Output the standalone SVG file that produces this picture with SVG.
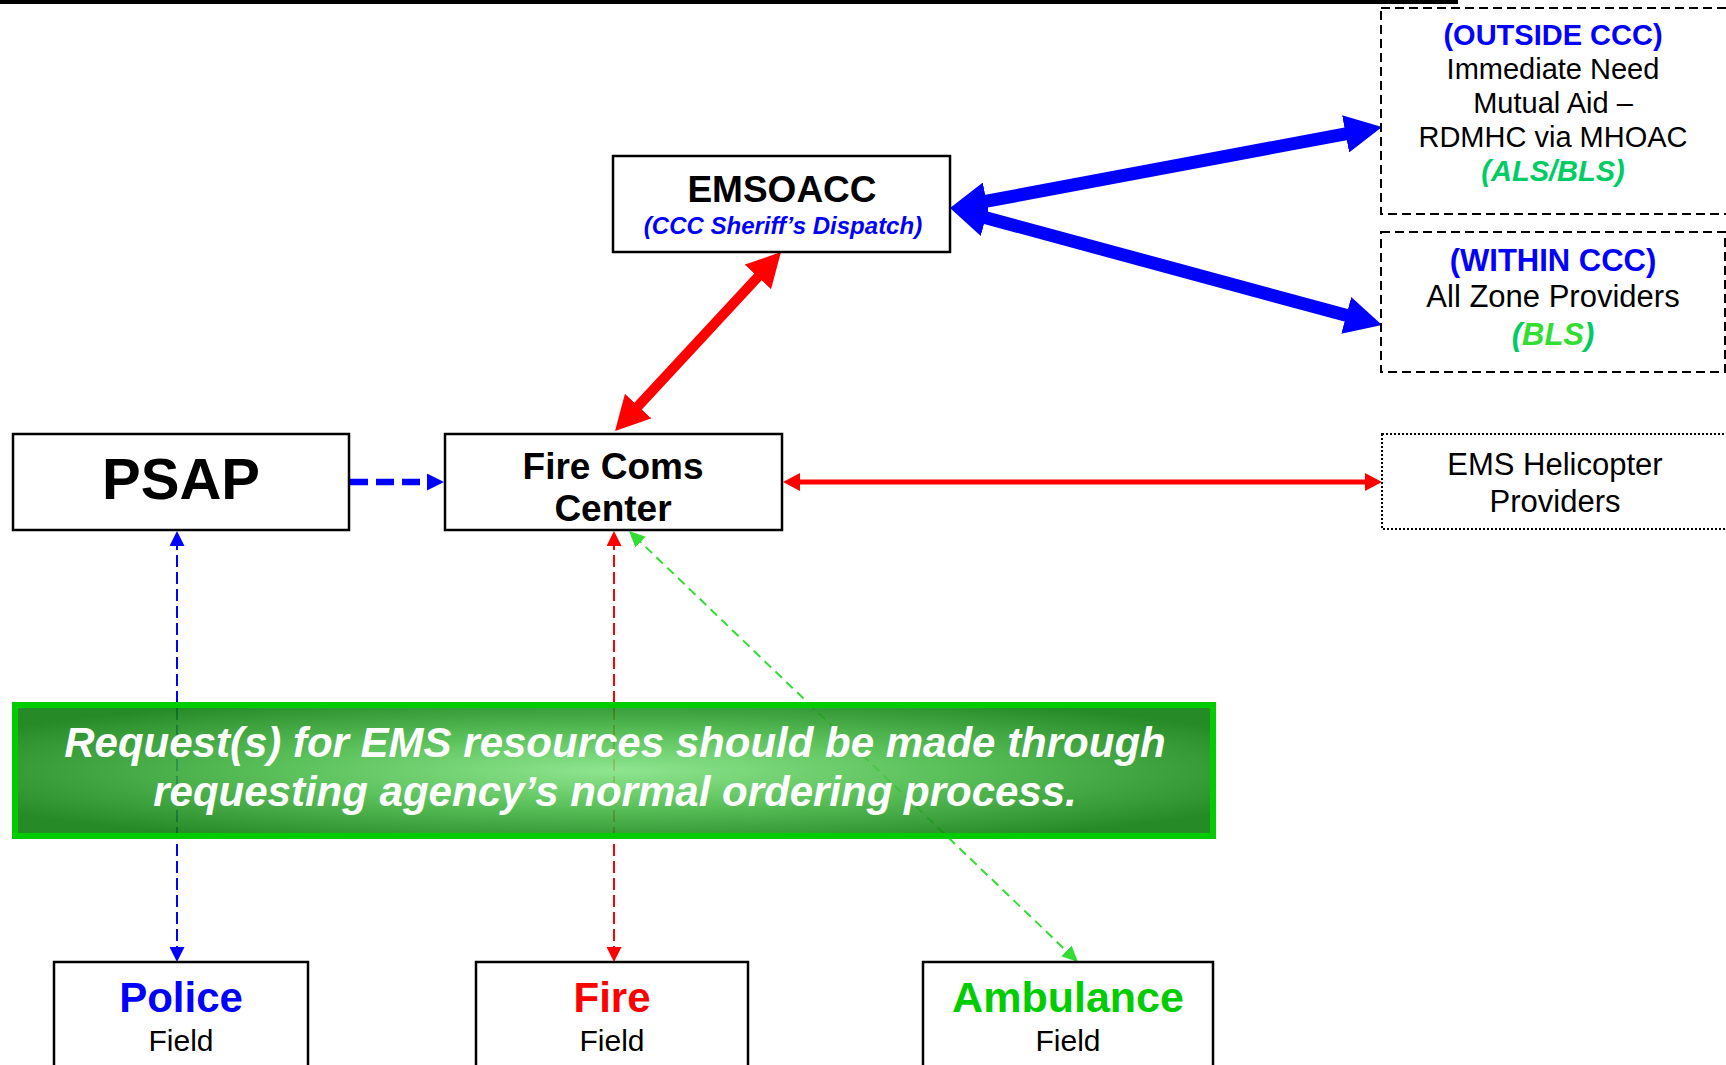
<svg xmlns="http://www.w3.org/2000/svg" width="1726" height="1065" viewBox="0 0 1726 1065">
<style>
text{font-family:"Liberation Sans",Arial,sans-serif;text-anchor:middle}
.box{fill:#fff;stroke:#000;stroke-width:2.5}
.dash{fill:#fff;stroke:#000;stroke-width:2;stroke-dasharray:9 5}
.dot{fill:#fff;stroke:#000;stroke-width:2;stroke-dasharray:2 2}
.b{font-weight:bold}
.bi{font-weight:bold;font-style:italic}
.blue{fill:#0000FF}.red{fill:#FF0000}.grn{fill:#00CC00}
</style>
<defs>
<radialGradient id="gg" cx="0.5" cy="0.5" r="0.6">
<stop offset="0" stop-color="#80E280"/>
<stop offset="0.45" stop-color="#45B945"/>
<stop offset="1" stop-color="#087A08"/>
</radialGradient>
<marker id="hBlueBig" markerUnits="userSpaceOnUse" markerWidth="37" markerHeight="38" refX="19" refY="19" orient="auto-start-reverse" viewBox="0 0 37 38"><path d="M0,0 L37,19 L0,38 z" fill="#0000FF"/></marker>
<marker id="hRedBig" markerUnits="userSpaceOnUse" markerWidth="34" markerHeight="36" refX="17" refY="18" orient="auto-start-reverse" viewBox="0 0 34 36"><path d="M0,0 L34,18 L0,36 z" fill="#FF0000"/></marker>
<marker id="hRed" markerUnits="userSpaceOnUse" markerWidth="17" markerHeight="18" refX="9" refY="9" orient="auto-start-reverse" viewBox="0 0 17 18"><path d="M0,0 L17,9 L0,18 z" fill="#FF0000"/></marker>
<marker id="hBlueMid" markerUnits="userSpaceOnUse" markerWidth="17" markerHeight="17" refX="9" refY="8.5" orient="auto-start-reverse" viewBox="0 0 17 17"><path d="M0,0 L17,8.5 L0,17 z" fill="#0000FF"/></marker>
<marker id="hBlueS" markerUnits="userSpaceOnUse" markerWidth="15" markerHeight="15" refX="8" refY="7.5" orient="auto-start-reverse" viewBox="0 0 15 15"><path d="M0,0 L15,7.5 L0,15 z" fill="#0000FF"/></marker>
<marker id="hRedS" markerUnits="userSpaceOnUse" markerWidth="15" markerHeight="15" refX="8" refY="7.5" orient="auto-start-reverse" viewBox="0 0 15 15"><path d="M0,0 L15,7.5 L0,15 z" fill="#FF0000"/></marker>
<marker id="hGrnS" markerUnits="userSpaceOnUse" markerWidth="16" markerHeight="15" refX="8" refY="7.5" orient="auto-start-reverse" viewBox="0 0 16 15"><path d="M0,0 L16,7.5 L0,15 z" fill="#33DD33"/></marker>
</defs>

<rect x="0" y="0" width="1458" height="4" fill="#000"/>

<g id="connectors">
<line x1="967.7" y1="204.7" x2="1364.3" y2="130.3" stroke="#0000FF" stroke-width="13" marker-start="url(#hBlueBig)" marker-end="url(#hBlueBig)"/>
<line x1="967.4" y1="212.7" x2="1364.6" y2="320.3" stroke="#0000FF" stroke-width="13" marker-start="url(#hBlueBig)" marker-end="url(#hBlueBig)"/>
<line x1="769.4" y1="264.5" x2="626.6" y2="418.5" stroke="#FF0000" stroke-width="10" marker-start="url(#hRedBig)" marker-end="url(#hRedBig)"/>
<line x1="791" y1="482" x2="1374" y2="482" stroke="#FF0000" stroke-width="5" marker-start="url(#hRed)" marker-end="url(#hRed)"/>
<line x1="350" y1="482" x2="436" y2="482" stroke="#0000FF" stroke-width="6.5" stroke-dasharray="18 8" marker-end="url(#hBlueMid)"/>
<line x1="177" y1="538" x2="177" y2="955" stroke="#0000FF" stroke-width="2" stroke-dasharray="12 5" marker-start="url(#hBlueS)" marker-end="url(#hBlueS)"/>
<line x1="614" y1="538" x2="614" y2="955" stroke="#FF0000" stroke-width="2" stroke-dasharray="12 5" marker-start="url(#hRedS)" marker-end="url(#hRedS)"/>
<line x1="634.8" y1="536.5" x2="1072.2" y2="956.5" stroke="#33DD33" stroke-width="2" stroke-dasharray="9 6" marker-start="url(#hGrnS)" marker-end="url(#hGrnS)"/>
</g>

<g id="note">
<rect x="15" y="705" width="1198" height="131" fill="url(#gg)" fill-opacity="0.88" stroke="#00CC00" stroke-width="6"/>
<text x="615" y="757" class="bi" font-size="42" fill="#fff">Request(s) for EMS resources should be made through</text>
<text x="615" y="806" class="bi" font-size="42" fill="#fff">requesting agency’s normal ordering process.</text>
</g>

<g id="emsoacc">
<rect x="613" y="156" width="337" height="96" class="box"/>
<text x="782" y="202" class="b" font-size="37">EMSOACC</text>
<text x="783" y="234" class="bi blue" font-size="24">(CCC Sheriff’s Dispatch)</text>
</g>

<g id="outside">
<rect x="1381" y="8" width="360" height="206" class="dash"/>
<text x="1553" y="45" class="b blue" font-size="29">(OUTSIDE CCC)</text>
<text x="1553" y="79" font-size="29">Immediate Need</text>
<text x="1553" y="113" font-size="29">Mutual Aid –</text>
<text x="1553" y="147" font-size="29">RDMHC via MHOAC</text>
<text x="1553" y="181" class="bi" font-size="29" fill="#00CC66">(ALS/BLS)</text>
</g>

<g id="within">
<rect x="1381" y="232" width="344" height="140" class="dash"/>
<text x="1553" y="271" class="b blue" font-size="31">(WITHIN CCC)</text>
<text x="1553" y="307" font-size="31">All Zone Providers</text>
<text x="1553" y="345" class="bi" font-size="31" fill="#00CC66">(<tspan fill="#33DD33">BLS</tspan>)</text>
</g>

<g id="psap">
<rect x="13" y="434" width="336" height="96" class="box"/>
<text x="181" y="499" class="b" font-size="58">PSAP</text>
</g>

<g id="firecoms">
<rect x="445" y="434" width="337" height="96" class="box"/>
<text x="613" y="479" class="b" font-size="37">Fire Coms</text>
<text x="613" y="521" class="b" font-size="37">Center</text>
</g>

<g id="helicopter">
<rect x="1382" y="434" width="360" height="95" class="dot"/>
<text x="1555" y="475" font-size="31">EMS Helicopter</text>
<text x="1555" y="512" font-size="31">Providers</text>
</g>

<g id="police">
<rect x="54" y="962" width="254" height="120" class="box"/>
<text x="181" y="1012" class="b blue" font-size="42">Police</text>
<text x="181" y="1051" font-size="30">Field</text>
</g>

<g id="fire">
<rect x="476" y="962" width="272" height="120" class="box"/>
<text x="612" y="1012" class="b red" font-size="42">Fire</text>
<text x="612" y="1051" font-size="30">Field</text>
</g>

<g id="ambulance">
<rect x="923" y="962" width="290" height="120" class="box"/>
<text x="1068" y="1012" class="b grn" font-size="43">Ambulance</text>
<text x="1068" y="1051" font-size="30">Field</text>
</g>
</svg>
